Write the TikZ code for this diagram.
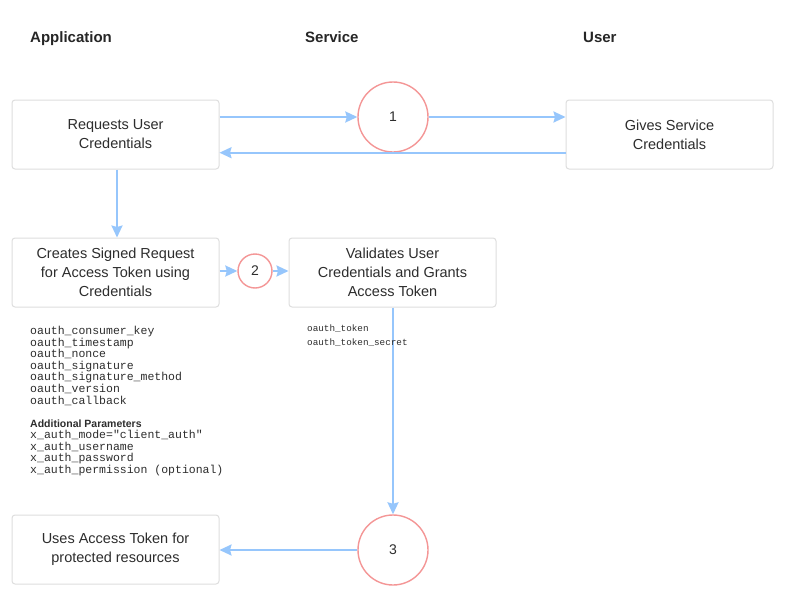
\documentclass[tikz,border=0pt]{standalone}
\usepackage{fontspec}
\setmainfont{Liberation Sans}
\setmonofont{Liberation Mono}
\usetikzlibrary{arrows.meta}
\definecolor{arrowblue}{RGB}{150,198,252}
\definecolor{circred}{RGB}{244,150,150}
\definecolor{boxgray}{RGB}{222,222,222}
\definecolor{txt}{RGB}{45,45,45}
\begin{document}
\begin{tikzpicture}[x=1pt,y=-1pt,
  box/.style={draw=boxgray, line width=1pt, rounded corners=3pt, minimum width=207pt, minimum height=69pt, align=center, text=txt, font=\fontsize{14.5}{19}\selectfont},
  numcirc/.style={draw=circred, line width=1.4pt, circle, inner sep=0pt, text=txt, font=\fontsize{14}{16}\selectfont},
  arr/.style={draw=arrowblue, line width=2pt, -{Stealth[length=12pt,width=11pt,inset=1.5pt]}},
  title/.style={font=\fontsize{15}{18}\selectfont\bfseries, text=black!85, anchor=base west, inner sep=0pt},
  mono/.style={font=\fontsize{11.5}{11.6}\selectfont\ttfamily, text=txt, align=left, anchor=north west, inner sep=0pt},
  monosmall/.style={font=\fontsize{9.3}{13.5}\selectfont\ttfamily, text=txt, align=left, anchor=north west, inner sep=0pt}
]
\useasboundingbox[fill=white] (0,0) rectangle (798,608);

\node[title] (tapp) at (30,42) {Application};
\node[title] (tsvc) at (305,42) {Service};
\node[title] (tusr) at (583,42) {User};

\node[box] (b1) at (115.5,134.5) {Requests User\\Credentials};
\node[box] (b2) at (669.5,134.5) {Gives Service\\Credentials};
\node[box] (b3) at (115.5,272.5) {Creates Signed Request\\for Access Token using\\Credentials};
\node[box] (b4) at (392.5,272.5) {Validates User\\Credentials and Grants\\Access Token};
\node[box] (b5) at (115.5,549.5) {Uses Access Token for\\protected resources};

\node[numcirc, minimum size=70pt] (c1) at (393,117) {1};
\node[numcirc, minimum size=34pt] (c2) at (255,271) {2};
\node[numcirc, minimum size=70pt] (c3) at (393,550) {3};

\draw[arr] (b1.east |- c1.center) -- (c1.west);
\draw[arr] (c1.east) -- (b2.west |- c1.center);
\draw[arr] (b2.west |- c1.south) -- (b1.east |- c1.south);
\draw[arr] ([xshift=1.5pt]b1.south) -- ([xshift=1.5pt]b3.north);
\draw[arr] (b3.east |- c2.center) -- (c2.west);
\draw[arr] (c2.east) -- (b4.west |- c2.center);
\draw[arr] (b4.south -| c3.north) -- (c3.north);
\draw[arr] (c3.west) -- (b5.east |- c3.center);

\node[mono] (params) at (30,326) {oauth\_consumer\_key\\oauth\_timestamp\\oauth\_nonce\\oauth\_signature\\oauth\_signature\_method\\oauth\_version\\oauth\_callback};
\node[font=\fontsize{10.5}{12}\selectfont\bfseries, text=txt, anchor=base west, inner sep=0pt] (addl) at (30,427) {Additional Parameters};
\node[mono] (xparams) at (30,430) {x\_auth\_mode="client\_auth"\\x\_auth\_username\\x\_auth\_password\\x\_auth\_permission (optional)};
\node[monosmall] (tokens) at (307,325) {oauth\_token\\oauth\_token\_secret};
\end{tikzpicture}
\end{document}
